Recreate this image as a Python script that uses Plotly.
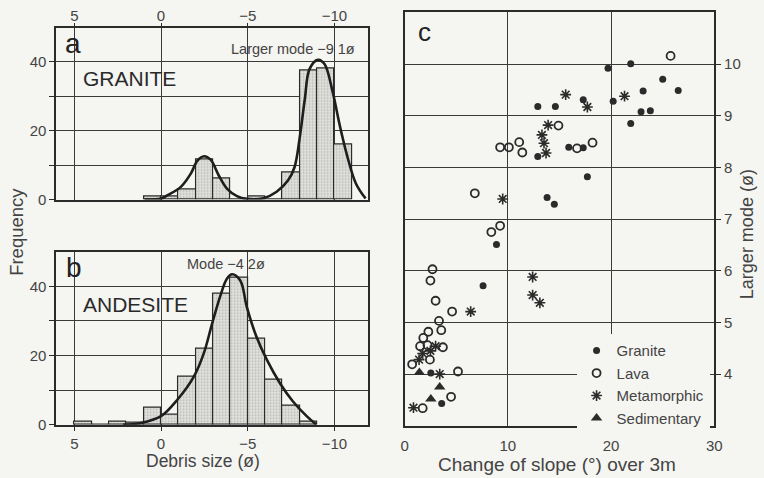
import plotly.graph_objects as go

# ---------------- data ----------------
# Panel a: GRANITE histogram (bin upper/lower edges in phi, frequency)
granite_bin_left = [1, 0, -1, -2, -3, -4, -5, -6, -7, -8, -9, -10]
granite_freq = [1, 1, 3, 11.5, 6, 0, 1, 0, 8, 37.5, 38, 16]
granite_curve_phi = [0.95, 0, -0.38, -1.14, -1.71, -2.1, -2.48, -2.86, -3.33, -3.8, -4.38, -4.95,
                     -5.9, -6.67, -7.33, -7.7, -8.0, -8.29, -8.57, -9.05, -9.43, -9.9, -10.3,
                     -10.76, -11.24, -11.8]
granite_curve_freq = [0, 0.3, 1.3, 3.7, 7.5, 11.3, 12.6, 11.6, 7, 3.2, 1, 0.2,
                      0.4, 2.3, 5.6, 9.4, 18, 29, 38, 40.6, 39.4, 31.3, 21.8,
                      12.3, 4.7, 0.3]

# Panel b: ANDESITE histogram
andesite_bin_left = [5, 4, 3, 2, 1, 0, -1, -2, -3, -4, -5, -6, -7, -8]
andesite_freq = [1, 0, 1, 0.6, 5, 3, 14, 22, 38, 42.5, 25, 13, 5.5, 1]
andesite_curve_phi = [2.2, 1.1, 0, -0.95, -1.9, -2.47, -2.95, -3.43, -3.8, -4.1, -4.57, -4.95,
                      -5.5, -6.1, -6.86, -7.6, -8.4, -8.95]
andesite_curve_freq = [0, 0.6, 2.5, 7.3, 14, 20.7, 29.3, 37.4, 42.2, 43.5, 41.7, 34,
                       25.5, 18.8, 12, 6.8, 2.5, 0.1]

# Panel c: scatter, change of slope (deg) vs larger mode (phi)
granite_slope = [21.9, 19.7, 25.0, 26.5, 23.1, 20.2, 22.9, 23.8, 21.9, 17.3, 12.9, 14.6, 12.9,
                 15.9, 17.3, 17.7, 13.8, 14.5, 8.9, 7.6, 2.54, 3.59]
granite_mode = [10.01, 9.92, 9.71, 9.49, 9.48, 9.28, 9.08, 9.10, 8.85, 9.31, 9.18, 9.18, 8.21,
                8.39, 8.38, 7.82, 7.42, 7.29, 6.51, 5.71, 4.02, 3.43]
lava_slope = [25.76, 14.9, 9.25, 10.1, 11.1, 11.4, 16.7, 18.2, 6.8, 8.4, 9.25, 2.7, 2.5, 3.0,
              4.6, 3.33, 2.3, 3.55, 1.81, 1.5, 2.22, 3.71, 2.45, 0.73, 5.17, 4.5, 1.75]
lava_mode = [10.16, 8.81, 8.39, 8.39, 8.49, 8.29, 8.37, 8.48, 7.50, 6.75, 6.87, 6.03, 5.81, 5.42,
             5.21, 5.03, 4.82, 4.85, 4.70, 4.54, 4.56, 4.52, 4.28, 4.19, 4.05, 3.56, 3.34]
meta_slope = [21.3, 15.6, 17.7, 13.9, 13.3, 13.5, 13.7, 9.5, 12.4, 12.4, 13.1, 6.4, 3.0, 1.75,
              2.5, 1.4, 3.4, 0.86]
meta_mode = [9.38, 9.41, 9.17, 8.82, 8.63, 8.47, 8.28, 7.39, 5.88, 5.53, 5.38, 5.21, 4.54, 4.40,
             4.45, 4.28, 4.0, 3.35]
sed_slope = [1.43, 3.4, 2.54]
sed_mode = [4.03, 3.75, 3.52]

hist_ticks = [5, 0, -5, -10]
hist_ticktext = ['5', '0', '−5', '−10']
freq_ticks = [0, 10, 20, 30, 40]
freq_ticktext = ['0', '', '20', '', '40']
slope_ticks = [0, 10, 20, 30]
mode_ticks = [4, 5, 6, 7, 8, 9, 10]

# ---------------- style ----------------
BG = '#f5f5f1'
INK = '#2b2b2b'
FONT = 'Liberation Sans, Arial, sans-serif'

bar_marker = dict(color='#e3e3df', line=dict(color=INK, width=1.2),
                  pattern=dict(shape='.', fillmode='overlay', fgcolor='#8a8a86', size=3, solidity=0.35))

fig = go.Figure()

fig.add_trace(go.Bar(x=[b - 0.5 for b in granite_bin_left], y=granite_freq, width=1,
                     marker=bar_marker, xaxis='x', yaxis='y', showlegend=False))
fig.add_trace(go.Scatter(x=granite_curve_phi, y=granite_curve_freq, mode='lines',
                         line=dict(color='#1e1e1e', width=2.6, shape='spline', smoothing=1),
                         xaxis='x', yaxis='y', showlegend=False))
fig.add_trace(go.Bar(x=[b - 0.5 for b in andesite_bin_left], y=andesite_freq, width=1,
                     marker=bar_marker, xaxis='x2', yaxis='y2', showlegend=False))
fig.add_trace(go.Scatter(x=andesite_curve_phi, y=andesite_curve_freq, mode='lines',
                         line=dict(color='#1e1e1e', width=2.6, shape='spline', smoothing=1),
                         xaxis='x2', yaxis='y2', showlegend=False))

fig.add_trace(go.Scatter(x=granite_slope, y=granite_mode, mode='markers', name='Granite',
                         marker=dict(symbol='circle', size=7, color=INK),
                         xaxis='x3', yaxis='y3'))
fig.add_trace(go.Scatter(x=lava_slope, y=lava_mode, mode='markers', name='Lava',
                         marker=dict(symbol='circle-open', size=8, color=INK, line=dict(width=1.8)),
                         xaxis='x3', yaxis='y3'))
fig.add_trace(go.Scatter(x=meta_slope, y=meta_mode, mode='markers', name='Metamorphic',
                         marker=dict(symbol='asterisk-open', size=9, color=INK, line=dict(width=1.6, color=INK)),
                         xaxis='x3', yaxis='y3'))
fig.add_trace(go.Scatter(x=sed_slope, y=sed_mode, mode='markers', name='Sedimentary',
                         marker=dict(symbol='triangle-up', size=10, color=INK),
                         xaxis='x3', yaxis='y3'))

common = dict(showline=True, linecolor=INK, linewidth=1.5, mirror=True, zeroline=False,
              showgrid=True, gridcolor='#3a3a3a', gridwidth=1.1,
              tickfont=dict(family=FONT, size=15, color='#444'), tickcolor=INK)

xa_dom = [53 / 764, 370 / 764]
fig.update_layout(
    width=764, height=478, margin=dict(l=0, r=0, t=0, b=0),
    paper_bgcolor=BG, plot_bgcolor=BG, bargap=0,
    font=dict(family=FONT, color='#333'),
    xaxis=dict(domain=xa_dom, range=[6.05, -11.95], anchor='y', side='top',
               tickvals=hist_ticks, ticktext=hist_ticktext, ticks='outside', ticklen=3,
               ticklabelstandoff=-4, **common),
    yaxis=dict(domain=[1 - 203 / 478, 1 - 28 / 478], range=[0, 50], anchor='x',
               tickvals=freq_ticks, ticktext=freq_ticktext, ticks='outside', ticklen=5, **common),
    xaxis2=dict(domain=xa_dom, range=[6.05, -11.95], anchor='y2', side='bottom',
                tickvals=hist_ticks, ticktext=hist_ticktext, ticks='outside', ticklen=4,
                ticklabelstandoff=0, **common),
    yaxis2=dict(domain=[1 - 432 / 478, 1 - 256 / 478], range=[0, 50], anchor='x2',
                tickvals=freq_ticks, ticktext=freq_ticktext, ticks='outside', ticklen=5, **common),
    xaxis3=dict(domain=[407 / 764, 721.7 / 764], range=[0, 30], anchor='y3',
                tickvals=slope_ticks, ticks='', ticklabelstandoff=5, **common),
    yaxis3=dict(domain=[1 - 433 / 478, 1 - 12.7 / 478], range=[3, 11], anchor='x3', side='right',
                tickvals=mode_ticks, ticks='outside', ticklen=5, **common),
    legend=dict(x=581.7 / 764, y=1 - 340 / 478, xanchor='left', yanchor='top',
                bgcolor=BG, borderwidth=0, font=dict(family=FONT, size=15, color='#444'),
                itemwidth=30, tracegroupgap=0),
)

def ann(text, x, y, size, angle=0, weight='normal', color='#333'):
    fig.add_annotation(text=text, x=x / 764, y=1 - y / 478, xref='paper', yref='paper',
                       showarrow=False, textangle=angle, xanchor='center', yanchor='middle',
                       font=dict(family=FONT, size=size, color=color, weight=weight))

ann('a', 70, 44, 28, color='#222')
ann('b', 71, 272, 28, color='#222')
ann('c', 427, 33, 26, color='#222')
ann('GRANITE', 127, 80, 21, color='#2a2a2a')
ann('ANDESITE', 134, 310, 21, color='#2a2a2a')
ann('Larger mode −9 1ø', 294, 50, 14.5, color='#444')
ann('Mode −4 2ø', 226, 268, 14.5, color='#444')
ann('Frequency', 12, 236, 18.5, angle=-90, color='#444')
ann('Debris size (ø)', 202, 469, 17.5, color='#444')
ann('Change of slope (°) over 3m', 562, 472, 19, color='#444')
ann('Larger mode (ø)', 755, 238, 18, angle=-90, color='#444')

fig.write_html('out.html')
